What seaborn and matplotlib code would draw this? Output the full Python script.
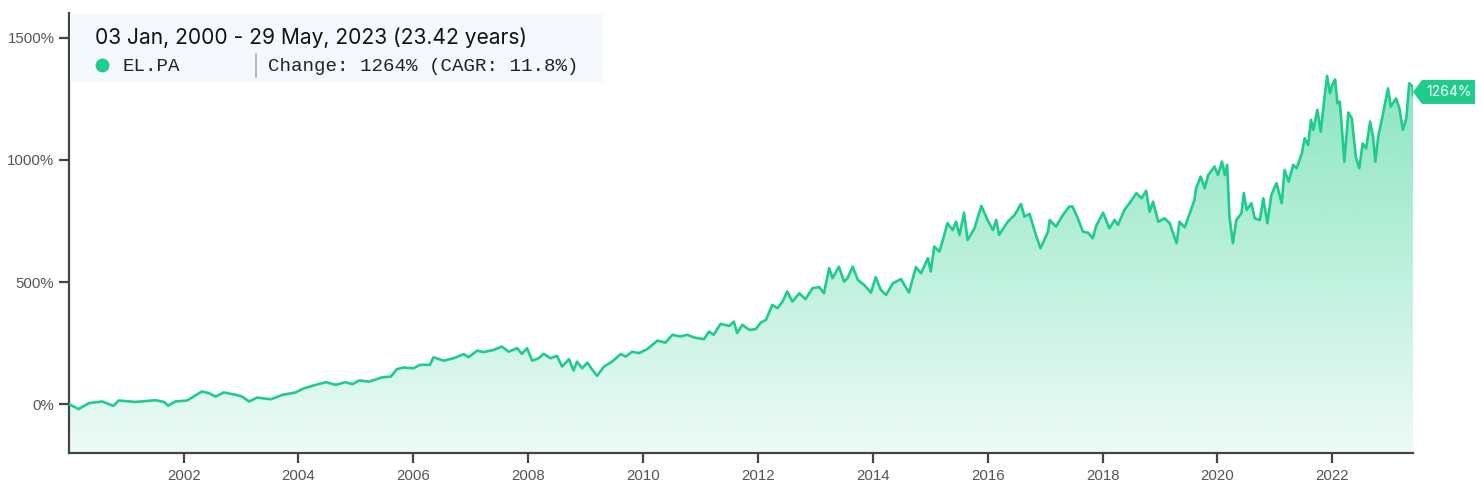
import numpy as np
import pandas as pd
import matplotlib
matplotlib.use("Agg")
import matplotlib.pyplot as plt
import matplotlib.dates as mdates
import matplotlib.transforms as mtransforms
from matplotlib.patches import Rectangle, Polygon
import seaborn as sns

# ---- data ----
years_since_2000 = [
    0.005, 0.17, 0.35, 0.58, 0.78, 0.87, 1.16, 1.51, 1.66, 1.73, 1.86, 2.06, 2.32, 2.44, 2.56, 2.70, 2.91,
    3.02, 3.14, 3.28, 3.52, 3.72, 3.95, 4.10, 4.30, 4.48, 4.65, 4.82, 4.94, 5.06, 5.23, 5.46, 5.61, 5.71,
    5.83, 6.00, 6.12, 6.29, 6.35, 6.53, 6.70, 6.88, 6.96, 7.11, 7.22, 7.40, 7.54, 7.66, 7.81, 7.89, 7.98,
    8.07, 8.18, 8.27, 8.39, 8.50, 8.59, 8.71, 8.79, 8.85, 8.94, 9.03, 9.11, 9.20, 9.32, 9.46, 9.61, 9.70,
    9.81, 9.93, 10.07, 10.25, 10.39, 10.51, 10.65, 10.77, 10.89, 11.06, 11.15, 11.23, 11.35, 11.50, 11.58,
    11.64, 11.73, 11.85, 11.96, 12.05, 12.14, 12.25, 12.34, 12.43, 12.51, 12.60, 12.72, 12.83, 12.95, 13.07,
    13.15, 13.24, 13.30, 13.41, 13.50, 13.56, 13.65, 13.74, 13.85, 13.97, 14.05, 14.14, 14.23, 14.35, 14.49,
    14.63, 14.75, 14.84, 14.96, 15.01, 15.07, 15.16, 15.22, 15.30, 15.39, 15.45, 15.51, 15.59, 15.65, 15.77,
    15.89, 16.00, 16.09, 16.15, 16.20, 16.35, 16.47, 16.58, 16.64, 16.73, 16.84, 16.92, 17.05, 17.08, 17.19,
    17.31, 17.42, 17.48, 17.57, 17.66, 17.75, 17.83, 17.89, 18.01, 18.12, 18.21, 18.27, 18.38, 18.47, 18.59,
    18.68, 18.76, 18.82, 18.88, 18.97, 19.08, 19.17, 19.29, 19.34, 19.43, 19.52, 19.60, 19.63, 19.71, 19.78,
    19.84, 19.95, 20.01, 20.08, 20.13, 20.17, 20.21, 20.27, 20.33, 20.42, 20.46, 20.51, 20.59, 20.65, 20.74,
    20.80, 20.87, 20.94, 21.03, 21.12, 21.17, 21.24, 21.32, 21.38, 21.47, 21.52, 21.58, 21.63, 21.67, 21.74,
    21.80, 21.86, 21.91, 21.96, 22.00, 22.05, 22.09, 22.13, 22.16, 22.21, 22.28, 22.34, 22.38, 22.41, 22.47,
    22.53, 22.59, 22.66, 22.71, 22.75, 22.80, 22.88, 22.97, 23.02, 23.11, 23.17, 23.23, 23.29, 23.34, 23.40,
    23.406,
]
change_pct = [
    0, -20, 4, 11, -7, 15, 9, 16, 9, -6, 11, 15, 52, 45, 31, 48, 38,
    31, 11, 27, 20, 38, 48, 65, 79, 90, 79, 90, 82, 97, 92, 110, 113, 143,
    150, 147, 161, 161, 192, 178, 188, 205, 192, 219, 213, 222, 236, 215, 229, 206, 229,
    178, 188, 206, 188, 198, 154, 184, 138, 174, 147, 170, 143, 116, 154, 174, 205, 195,
    215, 209, 225, 260, 252, 284, 277, 284, 273, 266, 297, 284, 329, 320, 338,
    291, 325, 304, 307, 334, 345, 406, 393, 420, 461, 420, 454, 430, 475, 479,
    454, 557, 516, 563, 502, 516, 563, 509, 488, 457, 520, 468, 447, 495, 512,
    457, 561, 536, 598, 543, 645, 625, 672, 741, 713, 747, 693, 784, 672, 720,
    812, 754, 713, 754, 693, 747, 775, 820, 768, 779, 693, 638, 706, 754, 727,
    775, 809, 809, 761, 706, 702, 679, 730, 784, 720, 754, 734, 795, 823, 864,
    843, 874, 788, 829, 747, 761, 741, 659, 747, 724, 782, 836, 884, 932, 884,
    938, 973, 938, 993, 938, 980, 768, 659, 754, 782, 864, 795, 823, 761, 754,
    843, 741, 857, 905, 823, 959, 911, 980, 966, 1027, 1089, 1061, 1164, 1123, 1205,
    1116, 1245, 1344, 1273, 1307, 1330, 1232, 1239, 1157, 993, 1194, 1171, 1082, 1013, 966,
    1068, 1047, 1157, 1095, 993, 1095, 1184, 1293, 1218, 1252, 1211, 1123, 1171, 1314, 1300,
    1264,
]
y_ticks = [0, 500, 1000, 1500]
x_tick_years = [2002, 2004, 2006, 2008, 2010, 2012, 2014, 2016, 2018, 2020, 2022]
ticker_name = "EL.PA"
title_text = "03 Jan, 2000 - 29 May, 2023 (23.42 years)"
stats_text = "Change: 1264% (CAGR: 11.8%)"
end_label = "1264%"

GREEN = "#1ecd8c"
AXIS = "#444444"

dates = pd.Timestamp("2000-01-01") + pd.to_timedelta(np.array(years_since_2000) * 365.25, unit="D")
df = pd.DataFrame({"date": dates, "change": change_pct})

sns.set_style("white")
plt.rcParams["font.family"] = ["Liberation Sans", "DejaVu Sans"]

W, H = 1482, 486
fig = plt.figure(figsize=(W / 100, H / 100), dpi=100)
ax_left, ax_right, ax_bottom, ax_top = 69, 1413, 453, 13.4
ax = fig.add_axes([ax_left / W, 1 - ax_bottom / H, (ax_right - ax_left) / W, (ax_bottom - ax_top) / H])

ymin, ymax = -200, 1600

# gradient fill under the curve
xnum = mdates.date2num(df["date"])
poly = ax.fill_between(xnum, df["change"], ymin, facecolor="none", edgecolor="none")
top_val = max(change_pct)
n = 256
rgba = np.zeros((n, 1, 4))
rgba[..., :3] = matplotlib.colors.to_rgb(GREEN)
rgba[:, 0, 3] = np.linspace(0.08, 0.52, n)
im = ax.imshow(rgba, extent=[xnum[0], xnum[-1], ymin, top_val], origin="lower",
               aspect="auto", interpolation="bicubic", zorder=1)
im.set_clip_path(poly.get_paths()[0], transform=ax.transData)

sns.lineplot(data=df, x="date", y="change", ax=ax, color=GREEN, linewidth=1.9, zorder=3)
ax.set_ylim(ymin, ymax)
ax.set_xlim(xnum[0], xnum[-1])

ax.set_xlabel("")
ax.set_ylabel("")
for s in ["top", "right"]:
    ax.spines[s].set_visible(False)
for s in ["left", "bottom"]:
    ax.spines[s].set_color(AXIS)
    ax.spines[s].set_linewidth(1.6)
ax.grid(False)

ax.set_yticks(y_ticks)
ax.set_yticklabels([f"{v}%" for v in y_ticks])
ax.set_xticks([mdates.date2num(pd.Timestamp(f"{y}-01-01")) for y in x_tick_years])
ax.set_xticklabels([str(y) for y in x_tick_years])
ax.tick_params(axis="both", which="major", direction="out", length=7.5, width=1.6, color=AXIS,
               labelcolor="#555555", labelsize=10.8, bottom=True, left=True)
ax.tick_params(axis="x", pad=4)
ax.tick_params(axis="y", pad=3)

# title box
def fx(px):
    return px / W

def fy(py):
    return 1 - py / H

fig.add_artist(Rectangle((fx(70), fy(82)), fx(603) - fx(70), fy(14) - fy(82),
                         transform=fig.transFigure, facecolor="#f5f8fe", edgecolor="none", zorder=5))
fig.text(fx(95), fy(44), title_text, fontsize=15.1, color="#111111",
         family=["Inter", "DejaVu Sans"], va="baseline", ha="left", zorder=6)
fig.add_artist(plt.Line2D([fx(102)], [fy(65)], transform=fig.transFigure, marker="o",
                          markersize=10, markerfacecolor=GREEN, markeredgecolor="none",
                          linestyle="none", zorder=6))
mono = ["Liberation Mono", "DejaVu Sans Mono"]
fig.text(fx(122), fy(71), ticker_name, fontsize=13.8, color="#222222",
         family=mono, va="baseline", ha="left", zorder=6)
fig.add_artist(plt.Line2D([fx(256), fx(256)], [fy(54), fy(77)], transform=fig.transFigure,
                          color="#aaaaaa", linewidth=1.2, zorder=6))
fig.text(fx(268), fy(71), stats_text, fontsize=13.8, color="#222222",
         family=mono, va="baseline", ha="left", zorder=6)

# end label tag
last_x, last_y = xnum[-1], change_pct[-1]
trans = fig.dpi_scale_trans + mtransforms.ScaledTranslation(last_x, last_y, ax.transData)
verts = np.array([(0, 0), (9, 12), (62, 12), (62, -12), (9, -12)]) / 100.0
verts[:, 1] += 3.5 / 100.0
ax.add_patch(Polygon(verts, closed=True, transform=trans, facecolor=GREEN,
                     edgecolor="none", clip_on=False, zorder=7))
ax.text(36 / 100.0, 3.5 / 100.0, end_label, transform=trans, color="white", fontsize=10,
        family=["Inter", "DejaVu Sans"], ha="center", va="center", clip_on=False, zorder=8)

fig.savefig("out.png", dpi=100)
